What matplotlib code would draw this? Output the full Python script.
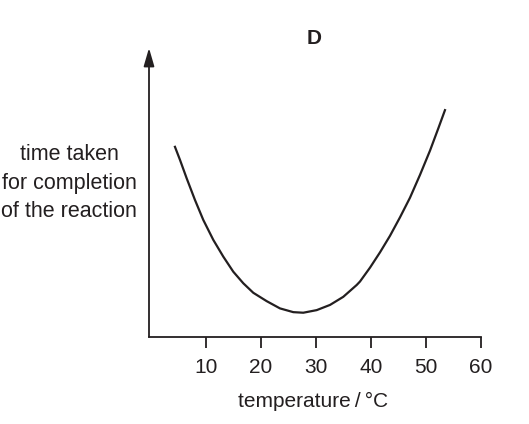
import matplotlib
matplotlib.use("Agg")
import matplotlib.pyplot as plt
import numpy as np

plt.rcParams['font.family'] = ['Liberation Sans', 'DejaVu Sans']

# data (arbitrary y units)
temperature = [4.36, 5.27, 6.49, 8.0, 9.51, 11.33, 13.15, 14.96, 16.78, 18.6, 21.04, 23.45,
               25.87, 27.69, 30.13, 32.55, 34.96, 37.4, 38.0, 39.82, 41.64, 43.45, 45.27, 47.09,
               48.91, 50.73, 52.24, 53.45]
time_taken = [6.58, 6.13, 5.49, 4.74, 4.05, 3.36, 2.78, 2.26, 1.86, 1.53, 1.24, 0.99,
              0.86, 0.84, 0.93, 1.11, 1.39, 1.80, 1.92, 2.40, 2.93, 3.50, 4.14, 4.82,
              5.61, 6.45, 7.22, 7.85]
xticks = [10, 20, 30, 40, 50, 60]
xticklabels = ['10', '20', '30', '40', '50', '60']

W, H = 529, 424
fig = plt.figure(figsize=(W / 100, H / 100), dpi=100)
left_px, right_px, bottom_px, top_px = 149, 481, 337, 48
ax = fig.add_axes([left_px / W, 1 - bottom_px / H, (right_px - left_px) / W, (bottom_px - top_px) / H])

ink = '#231f20'
ax.plot(temperature, time_taken, color=ink, lw=1.6, solid_joinstyle='round')
ax.set_xlim(-0.36, 60)
ax.set_ylim(0, 10)

for s in ['top', 'right', 'left']:
    ax.spines[s].set_visible(False)
ax.spines['bottom'].set_linewidth(1.3)
ax.spines['bottom'].set_color(ink)

ax.annotate('', xy=(0, 1), xycoords='axes fraction', xytext=(0, 0), textcoords='axes fraction',
            arrowprops=dict(arrowstyle='-|>,head_length=1.1,head_width=0.32', color=ink, lw=1.3,
                            shrinkA=0, shrinkB=0))

ax.set_yticks([])
ax.set_xticks(xticks)
ax.set_xticklabels(xticklabels)
ax.tick_params(axis='x', direction='out', length=8, width=1.3, color=ink, labelsize=15, pad=7, labelcolor=ink)

fig.text(69 / W, 1 - 183 / H, 'time taken\nfor completion\nof the reaction', ha='center', va='center',
         multialignment='center', fontsize=15.5, linespacing=1.45, color=ink)
fig.text(313 / W, 1 - 401 / H, 'temperature\u2009/\u2009°C', ha='center', va='center', fontsize=15, color=ink)
fig.text(314 / W, 1 - 38 / H, 'D', ha='center', va='center', fontsize=15, fontweight='bold', color=ink)

fig.savefig('out.png', dpi=100)
